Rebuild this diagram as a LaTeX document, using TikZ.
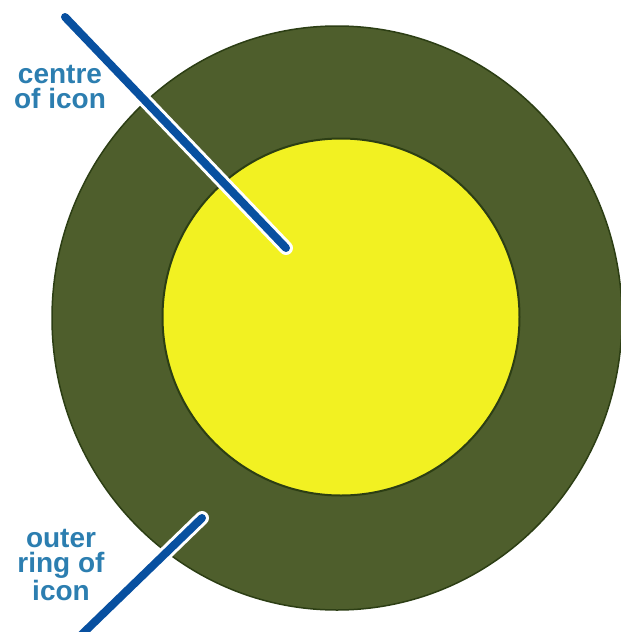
\documentclass[tikz,border=0pt]{standalone}
\usepackage{fontspec}
\setmainfont{Liberation Sans}
\usetikzlibrary{shapes.geometric}
\definecolor{ringgreen}{RGB}{78,94,44}
\definecolor{ringedge}{RGB}{44,62,20}
\definecolor{iconyellow}{RGB}{242,241,34}
\definecolor{pointerblue}{RGB}{8,80,160}
\definecolor{labelblue}{RGB}{44,126,176}
\tikzset{
  halo/.style={draw=white, line width=14pt, line cap=round},
  pointer/.style={draw=pointerblue, line width=8pt, line cap=round},
  lbl/.style={text=labelblue, align=center, inner sep=0pt,
    font=\bfseries\fontsize{28}{25}\selectfont}
}
\begin{document}
\begin{tikzpicture}[x=1pt,y=-1pt]
\useasboundingbox (0,0) rectangle (621,632);
\clip (0,0) rectangle (621,632);
\node[ellipse, minimum width=570pt, minimum height=584pt, fill=ringgreen, draw=ringedge, line width=1.5pt, inner sep=0pt] (outer) at (337,318) {};
\node[circle, minimum size=357pt, fill=iconyellow, draw=ringedge, line width=2pt, inner sep=0pt] (inner) at (341,317) {};
\coordinate (p1a) at (65,17);
\coordinate (p1b) at (286,248);
\coordinate (p2a) at (202,518);
\coordinate (p2b) at (76,640);
\draw[halo] (p1a) -- (p1b);
\draw[pointer] (p1a) -- (p1b);
\draw[halo] (p2a) -- (p2b);
\draw[pointer] (p2a) -- (p2b);
\node[lbl, anchor=base] (lcentre) at (60,108) {centre\\of icon};
\node[lbl, anchor=base] (louter) at (61,600) {outer\\ring of\\icon};
\end{tikzpicture}
\end{document}
